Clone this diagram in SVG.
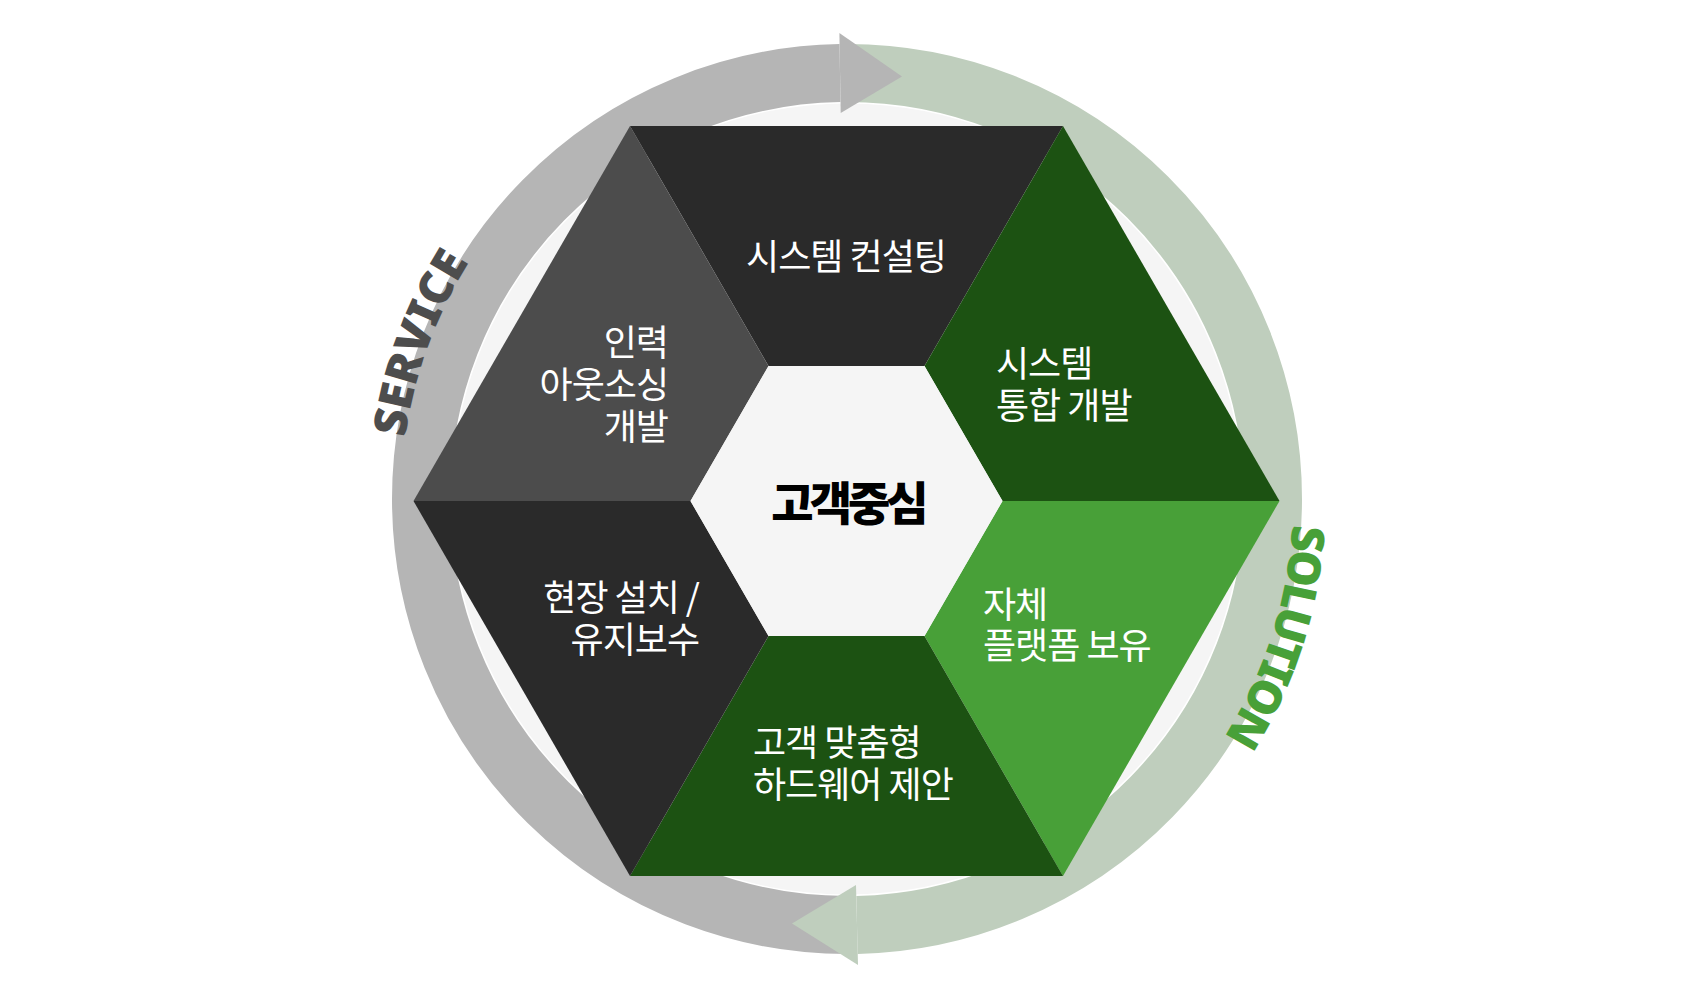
<svg xmlns="http://www.w3.org/2000/svg" width="1700" height="1000" viewBox="0 0 1700 1000">
  <defs>
    <style>
      .ring { fill: none; stroke-width: 58; stroke-linecap: butt; }
      .lbl { font-family: "Noto Sans CJK KR", "Noto Sans", sans-serif; font-size: 36px; fill: #ffffff; letter-spacing: -1px; font-weight: 400; }
      .arc-lbl { font-family: "Noto Sans", "Liberation Sans", sans-serif; font-size: 46px; font-weight: 900; }
    </style>
    <path id="serviceArc" d="M 460.75 722 A 446 446 0 0 1 694.46 79.9"/>
    <path id="solutionArc" d="M 1188.65 212.3 A 446 446 0 0 1 924.45 938.2"/>
  </defs>
  <rect width="1700" height="1000" fill="#ffffff"/>

  <g id="cycle">
    <circle cx="847" cy="499" r="395.5" fill="#f5f5f5"/>
    <path id="service-ring" class="ring" stroke="#b5b5b5" d="M 854.4 924.9 A 426 426 0 0 1 421 499 A 426 426 0 0 1 840 73.1"/>
    <path id="solution-ring" class="ring" stroke="#bfcebd" d="M 845 73 A 426 426 0 0 1 1273 499 A 426 426 0 0 1 857 924.9"/>
    <polygon id="service-head" points="839.4,33 840.7,113 902,76.6" fill="#b5b5b5"/>
    <polygon id="solution-head" points="858,965 856,885 792,923.5" fill="#bfcebd"/>
  </g>

  <g id="hexagon">
    <g id="node-consulting">
      <polygon points="630,126 1063,126 924.5,366 768.5,366" fill="#2a2a2a"/>
      <text class="lbl" x="846" y="270" text-anchor="middle">시스템 컨설팅</text>
    </g>
    <g id="node-integration">
      <polygon points="1063,126 1279.5,501 1002.5,501 924.5,366" fill="#1c5212"/>
      <text class="lbl" x="996" y="377">시스템</text>
      <text class="lbl" x="996" y="419">통합 개발</text>
    </g>
    <g id="node-platform">
      <polygon points="1279.5,501 1063,876 924.5,636 1002.5,501" fill="#48a038"/>
      <text class="lbl" x="983" y="618">자체</text>
      <text class="lbl" x="983" y="659">플랫폼 보유</text>
    </g>
    <g id="node-hardware">
      <polygon points="1063,876 630,876 768.5,636 924.5,636" fill="#1c5212"/>
      <text class="lbl" x="753" y="756">고객 맞춤형</text>
      <text class="lbl" x="753" y="798">하드웨어 제안</text>
    </g>
    <g id="node-maintenance">
      <polygon points="630,876 413.5,501 690.5,501 768.5,636" fill="#2a2a2a"/>
      <text class="lbl" x="699" y="611" text-anchor="end">현장 설치 /</text>
      <text class="lbl" x="699" y="653" text-anchor="end">유지보수</text>
    </g>
    <g id="node-outsourcing">
      <polygon points="413.5,501 630,126 768.5,366 690.5,501" fill="#4c4c4c"/>
      <text class="lbl" x="668" y="356" text-anchor="end">인력</text>
      <text class="lbl" x="668" y="398" text-anchor="end">아웃소싱</text>
      <text class="lbl" x="668" y="440" text-anchor="end">개발</text>
    </g>
    <g id="node-center">
      <polygon points="690.5,501 768.5,366 924.5,366 1002.5,501 924.5,636 768.5,636" fill="#f5f5f5"/>
      <text x="848" y="520" text-anchor="middle" font-family="'Noto Sans CJK KR', sans-serif" font-size="46" font-weight="900" letter-spacing="-4" fill="#000000">고객중심</text>
    </g>
  </g>

  <g id="cycle-labels">
    <text class="arc-lbl" fill="#4d4d4d" letter-spacing="-0.3"><textPath href="#serviceArc" startOffset="50%" text-anchor="middle">SERVICE</textPath></text>
    <text class="arc-lbl" fill="#48a038" letter-spacing="-3"><textPath href="#solutionArc" startOffset="48%" text-anchor="middle">SOLUTION</textPath></text>
  </g>
</svg>
